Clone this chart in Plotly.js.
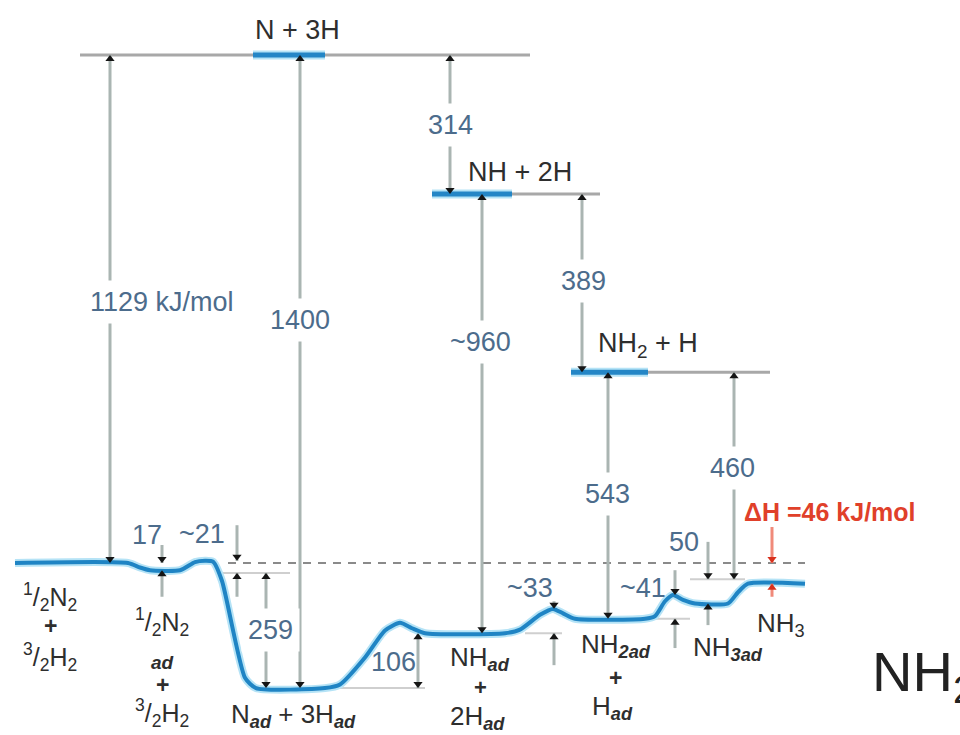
<!DOCTYPE html>
<html><head><meta charset="utf-8">
<script src="https://cdn.plot.ly/plotly-3.0.1.min.js"></script>
<style>html,body{margin:0;padding:0;background:#fff}#chart{width:960px;height:735px}</style>
</head><body><div id="chart"></div>
<script>
// ---- reaction energy profile (reaction coordinate, kJ/mol) ----
const profileX = [15, 128, 140, 150, 180, 195, 205, 213, 222, 245, 256, 325, 340, 365, 385, 400, 412, 425, 505, 520, 540, 553, 563, 575, 645, 655, 665, 673, 683, 695, 728, 738, 748, 805];
const profileE = [0, 0, -10, -16, -16, 2, 5, 3, -40, -255, -278, -278, -270, -210, -150, -133, -145, -156, -156, -148, -115, -102, -112, -124, -124, -118, -85, -71, -82, -90, -90, -65, -46, -46];

// ---- gas-phase atom levels ----
const levelE = [1129, 820, 424];
const levelLineX0 = [80, 432, 571];
const levelLineX1 = [530, 600, 770];
const levelBlueX0 = [253, 432, 571];
const levelBlueX1 = [325, 512, 648];

// ---- reference (dashed) ----
const refE = 0;
const refX = [228, 805];

// ---- thin guide lines ----
const guideE = [-22, -278, -156, -124, -36];
const guideX0 = [215, 325, 525, 655, 690];
const guideX1 = [290, 425, 562, 690, 745];

// ---- double-headed dimension arrows ----
const dimX   = [110, 300, 450, 482, 582, 608, 734, 266, 418];
const dimTop = [1129, 1129, 1129, 820, 820, 424, 424, -22, -156];
const dimBot = [0, -278, 820, -156, 424, -124, -36, -278, -278];

// ---- inward arrow pairs (small gaps) ----
const gapX        = [162, 237, 554, 675, 708];
const gapTop      = [0, 5, -102, -71, -36];
const gapBot      = [-16, -22, -156, -124, -90];
const gapTopStart = [40, 84, -85, -16, 47];
const gapBotEnd   = [-75, -75, -227, -189, -138];

// ---- ΔH arrows (red) ----
const dhX = 772, dhTop = 0, dhBot = -46, dhTopStart = 80, dhBotEnd = -75;

// ---- species labels ----
const spText = ['N + 3H', 'NH + 2H', 'NH<sub>2</sub> + H',
  '<sup>1</sup>/<sub>2</sub>N<sub>2</sub>', '<b>+</b>', '<sup>3</sup>/<sub>2</sub>H<sub>2</sub>',
  '<sup>1</sup>/<sub>2</sub>N<sub>2</sub>', '<b><i>ad</i></b>', '<b>+</b>', '<sup>3</sup>/<sub>2</sub>H<sub>2</sub>',
  'N<sub><b><i>ad</i></b></sub> + 3H<sub><b><i>ad</i></b></sub>',
  'NH<sub><b><i>ad</i></b></sub>', '<b>+</b>', '2H<sub><b><i>ad</i></b></sub>',
  'NH<sub><b><i>2ad</i></b></sub>', '<b>+</b>', 'H<sub><b><i>ad</i></b></sub>',
  'NH<sub><b><i>3ad</i></b></sub>', 'NH<sub>3</sub>'];
const spX = [297, 520, 648, 50, 50, 50, 162, 162, 162, 162, 293, 480, 480, 477, 616, 615, 612, 728, 781];
const spE = [1184, 869, 484, -76, -141, -209, -131, -220, -270, -333, -338, -212, -276, -344, -184, -255, -322, -191, -136];
const spSize = [27, 27, 27, 25, 23, 25, 25, 19, 23, 25, 26, 26, 22, 26, 26, 23, 26, 26, 26];

// ---- energy values ----
const numText = ['1129 kJ/mol', '1400', '314', '~960', '389', '543', '460', '259', '106', '17', '~21', '~33', '~41', '50'];
const numX = [162, 300, 450, 480, 583, 607, 732, 270, 393, 147, 202, 530, 643, 684];
const numE = [580, 540, 973, 491, 627, 153, 211, -149, -220, 62, 64, -56, -55, 47];
const numBg = [1, 1, 1, 1, 1, 1, 1, 1, 0, 0, 0, 0, 0, 0];

const dhText = '\u0394H =46 kJ/mol';
const dhLabelX = 742, dhLabelE = 113;
const bigText = 'NH<sub>2</sub>';
const bigX = 870, bigE = -251;

// ---------- build traces ----------
const FONT = 'Liberation Sans, Arial, sans-serif';
const traces = [];
function segs(x0, x1, e0, e1) {
  const xs = [], ys = [];
  for (let i = 0; i < x0.length; i++) { xs.push(x0[i], x1[i], null); ys.push(e0[i], e1[i], null); }
  return {xs, ys};
}
let g = segs(guideX0, guideX1, guideE, guideE);
traces.push({x: g.xs, y: g.ys, mode: 'lines', line: {color: '#cfcfcf', width: 2}, hoverinfo: 'skip'});
traces.push({x: refX, y: [refE, refE], mode: 'lines', line: {color: '#8a8a8a', width: 2, dash: '8px,7px'}, hoverinfo: 'skip'});
g = segs(levelLineX0, levelLineX1, levelE, levelE);
traces.push({x: g.xs, y: g.ys, mode: 'lines', line: {color: '#a8a8a8', width: 3}, hoverinfo: 'skip'});
const shX = [], shY = [];
for (let i = 0; i < dimX.length; i++) { shX.push(dimX[i], dimX[i], null); shY.push(dimTop[i], dimBot[i], null); }
for (let i = 0; i < gapX.length; i++) {
  shX.push(gapX[i], gapX[i], null); shY.push(gapTopStart[i], gapTop[i], null);
  shX.push(gapX[i], gapX[i], null); shY.push(gapBot[i], gapBotEnd[i], null);
}
traces.push({x: shX, y: shY, mode: 'lines', line: {color: '#aab5b2', width: 3}, hoverinfo: 'skip'});
g = segs(levelBlueX0, levelBlueX1, levelE, levelE);
traces.push({x: g.xs, y: g.ys, mode: 'lines', line: {color: '#b5e3f6', width: 9}, hoverinfo: 'skip'});
traces.push({x: g.xs, y: g.ys, mode: 'lines', line: {color: '#2486c6', width: 5}, hoverinfo: 'skip'});
traces.push({x: profileX, y: profileE, mode: 'lines', line: {color: '#b5e3f6', width: 8, shape: 'spline', smoothing: 0.6}, hoverinfo: 'skip'});
traces.push({x: profileX, y: profileE, mode: 'lines', line: {color: '#1f84c4', width: 4, shape: 'spline', smoothing: 0.6}, hoverinfo: 'skip'});
const OFF = 9;
const hUx = [], hUy = [], hDx = [], hDy = [];
for (let i = 0; i < dimX.length; i++) { hUx.push(dimX[i]); hUy.push(dimTop[i] - OFF); hDx.push(dimX[i]); hDy.push(dimBot[i] + OFF); }
for (let i = 0; i < gapX.length; i++) { hDx.push(gapX[i]); hDy.push(gapTop[i] + OFF); hUx.push(gapX[i]); hUy.push(gapBot[i] - OFF); }
traces.push({x: hUx, y: hUy, mode: 'markers', marker: {symbol: 'triangle-up', size: 8, color: '#151515'}, hoverinfo: 'skip'});
traces.push({x: hDx, y: hDy, mode: 'markers', marker: {symbol: 'triangle-down', size: 8, color: '#151515'}, hoverinfo: 'skip'});
traces.push({x: [dhX, dhX, null, dhX, dhX], y: [dhTopStart, dhTop, null, dhBot, dhBotEnd], mode: 'lines', line: {color: '#f08a7a', width: 3}, hoverinfo: 'skip'});
traces.push({x: [dhX, dhX], y: [dhTop + OFF, dhBot - OFF], mode: 'markers', marker: {symbol: ['triangle-down', 'triangle-up'], size: 8, color: '#d8301c'}, hoverinfo: 'skip'});

const ann = [];
for (let i = 0; i < spText.length; i++) {
  ann.push({x: spX[i], y: spE[i], xref: 'x', yref: 'y', text: spText[i], showarrow: false,
    font: {family: FONT, size: spSize[i], color: '#2e2e2e'}});
}
for (let i = 0; i < numText.length; i++) {
  ann.push({x: numX[i], y: numE[i], xref: 'x', yref: 'y', text: numText[i], showarrow: false,
    bgcolor: numBg[i] ? '#ffffff' : 'rgba(0,0,0,0)', borderpad: 6,
    font: {family: FONT, size: 27, color: '#4c6c8c'}});
}
ann.push({x: dhLabelX, y: dhLabelE, xref: 'x', yref: 'y', xanchor: 'left', text: '<b>' + dhText + '</b>', showarrow: false,
  font: {family: FONT, size: 25, color: '#e0402a'}});
ann.push({x: bigX, y: bigE, xref: 'x', yref: 'y', xanchor: 'left', text: bigText, showarrow: false,
  font: {family: FONT, size: 56, color: '#222222'}});

const layout = {
  width: 960, height: 735, margin: {l: 0, r: 0, t: 0, b: 0},
  paper_bgcolor: '#ffffff', plot_bgcolor: '#ffffff', showlegend: false,
  xaxis: {range: [0, 960], visible: false, fixedrange: true},
  yaxis: {range: [-382.2, 1251.1], visible: false, fixedrange: true},
  annotations: ann
};
Plotly.newPlot('chart', traces, layout, {staticPlot: true, displayModeBar: false});
</script>
</body></html>
